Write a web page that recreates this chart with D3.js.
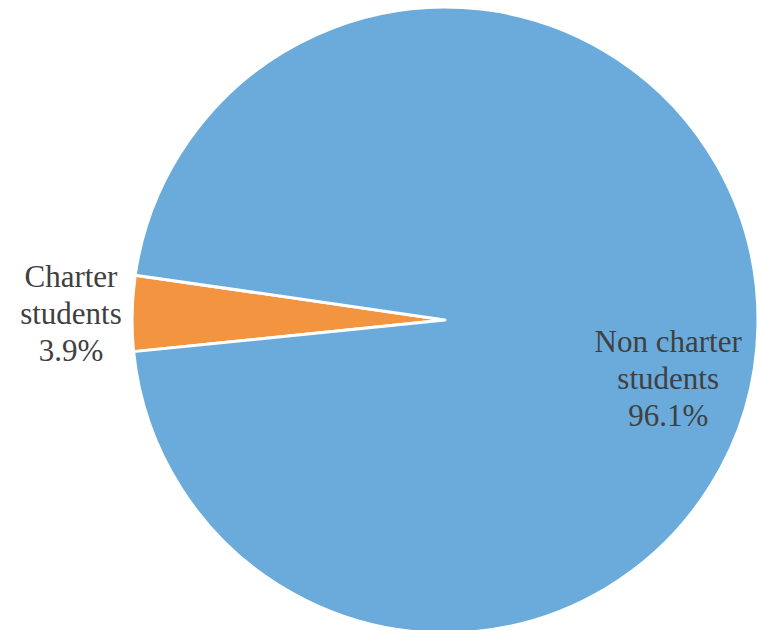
<!DOCTYPE html>
<html>
<head>
<meta charset="utf-8">
<script src="https://cdn.jsdelivr.net/npm/d3@7"></script>
<style>
  html, body { margin: 0; padding: 0; background: #fff; }
  svg { display: block; }
  text.lbl { font-family: 'Liberation Serif', 'Times New Roman', serif; font-size: 31px; }
</style>
</head>
<body>
<div id="chart"></div>
<script>
// Data
const categories = ['Charter students', 'Non charter students'];
const labelLines = [['Charter', 'students'], ['Non charter', 'students']];
const shares = [3.9, 96.1];
const colors = ['#F39441', '#6AABDB'];

const width = 757, height = 630;
const cx = 445, cy = 320, radius = 313;

// label anchors, as fraction of radius from the centre
const labelOffset = [[-1.195, -0.02], [0.713, 0.19]];

const svg = d3.select('#chart').append('svg')
  .attr('width', width)
  .attr('height', height);

const g = svg.append('g').attr('transform', `translate(${cx},${cy})`);

// charter slice sits just left of the centre line
const start = 264.2 * Math.PI / 180;
const pie = d3.pie().sort(null).value(d => d.v)
  .startAngle(start).endAngle(start + 2 * Math.PI);

const arc = d3.arc().innerRadius(0).outerRadius(radius);

const data = categories.map((c, i) => ({ c, v: shares[i], i }));
const arcs = pie(data);

g.selectAll('path')
  .data(arcs)
  .enter().append('path')
  .attr('d', arc)
  .attr('fill', d => colors[d.data.i])
  .attr('stroke', '#fff')
  .attr('stroke-width', 3)
  .attr('stroke-linejoin', 'round');

// Labels
const lineH = 37;
const labels = g.selectAll('text.lbl')
  .data(arcs)
  .enter().append('text')
  .attr('class', 'lbl')
  .attr('text-anchor', 'middle')
  .attr('fill', '#404040');

labels.each(function(d) {
  const i = d.data.i;
  const x = labelOffset[i][0] * radius;
  const y = labelOffset[i][1] * radius;
  const lines = [...labelLines[i], d3.format('.1f')(d.data.v) + '%'];
  const t = d3.select(this);
  lines.forEach((s, k) => {
    t.append('tspan')
      .attr('x', x)
      .attr('y', y + (k - 1) * lineH + 10)
      .text(s);
  });
});
</script>
</body>
</html>
